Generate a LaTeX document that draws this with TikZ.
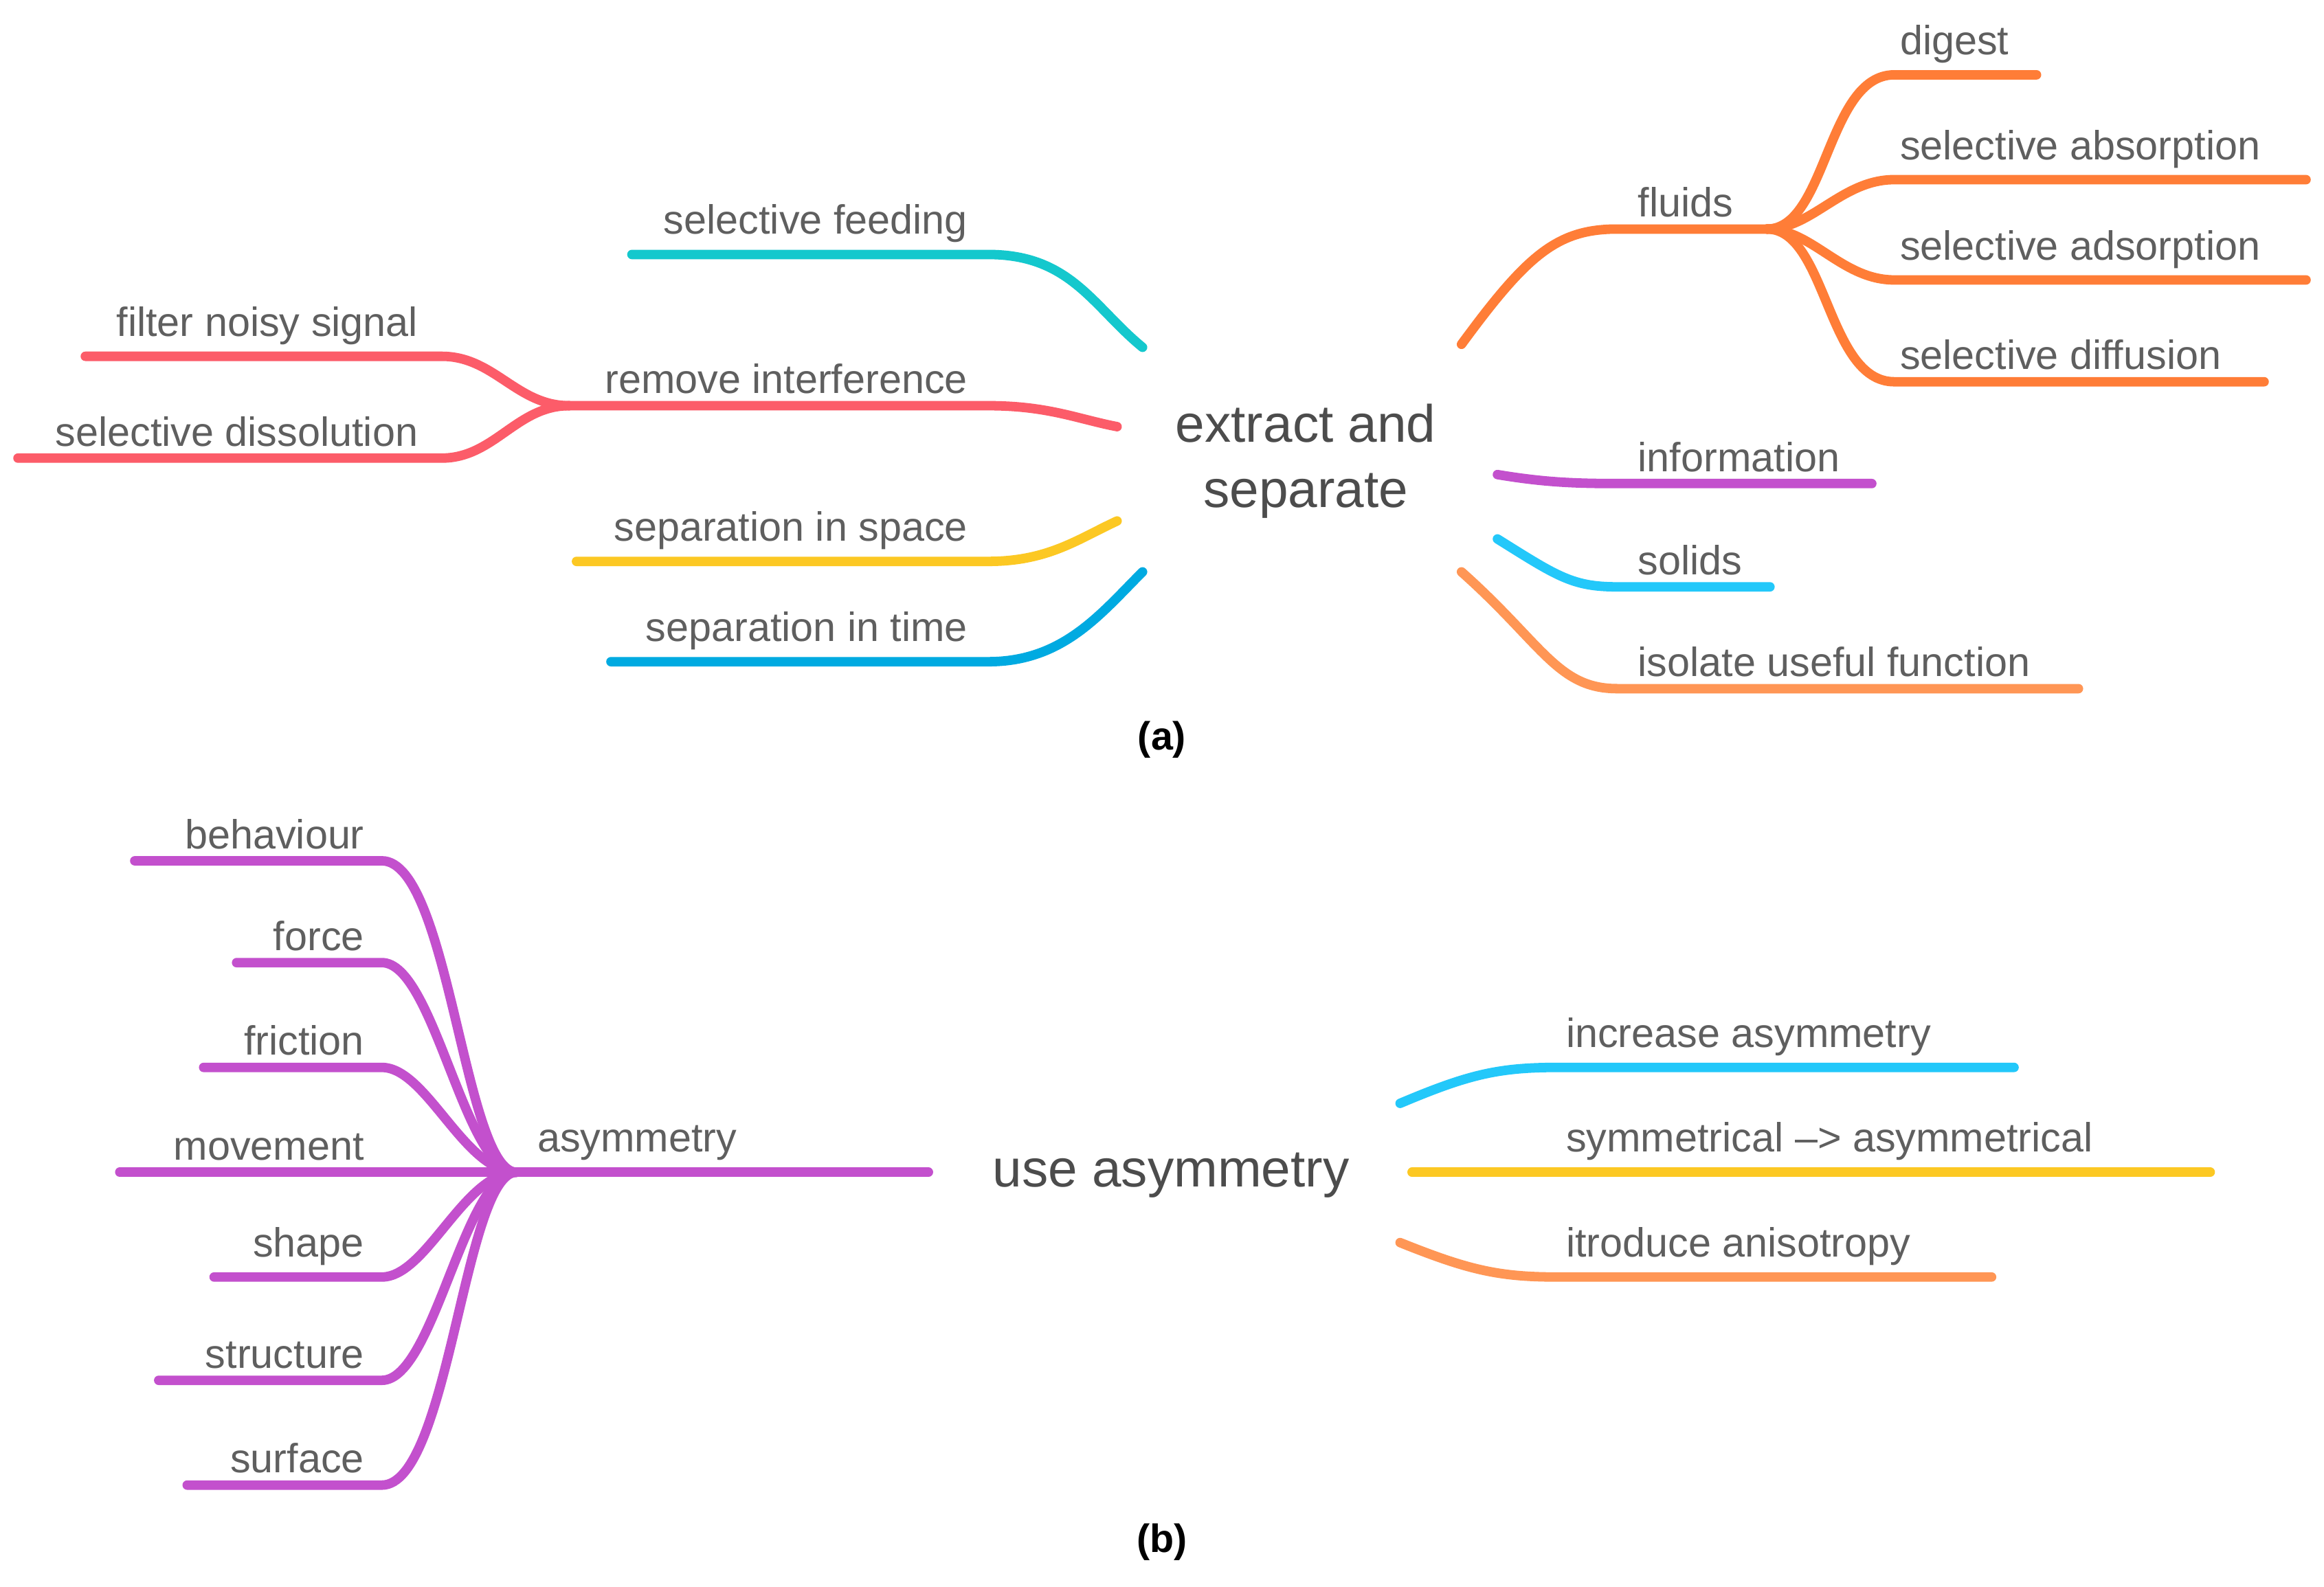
\documentclass[tikz,border=0pt]{standalone}
\usepackage{fontspec}
\setmainfont{Liberation Sans}
\begin{document}
\begin{tikzpicture}[x=0.02cm,y=-0.02cm,
 br/.style={line width=3.6pt,line cap=round},
 lbl/.style={text=txt,font=\fontsize{15.5}{18}\selectfont,inner sep=2pt},
 lr/.style={lbl,anchor=south west},
 ll/.style={lbl,anchor=south east},
 cen/.style={text=txt!80!black,font=\fontsize{20}{25}\selectfont,align=center},
 figcap/.style={font=\fontsize{15}{18}\selectfont\rmfamily\bfseries}]
\definecolor{txt}{RGB}{95,95,95}
\definecolor{teal}{RGB}{20,200,205}
\definecolor{red}{RGB}{252,92,105}
\definecolor{yel}{RGB}{252,200,35}
\definecolor{blu}{RGB}{0,170,225}
\definecolor{org}{RGB}{255,125,55}
\definecolor{pur}{RGB}{195,80,205}
\definecolor{lblu}{RGB}{35,200,250}
\definecolor{lorg}{RGB}{255,150,85}
\useasboundingbox (0,0) rectangle (1552,1060);
\fill[white] (0,0) rectangle (1552,1060);
% (a)
\node[cen] (c1) at (872,308) {extract and\\separate};
\coordinate (a1) at (763,232); \coordinate (a2) at (746,285);
\coordinate (a3) at (746,348); \coordinate (a4) at (763,382);
\coordinate (ri) at (380,271);
\draw[br,teal] (422,170) coordinate (t0) -- (660,170) .. controls (715,170) and (730,205) .. (a1);
\draw[br,red] (ri) -- (660,271) .. controls (700,271) and (720,280) .. (a2);
\draw[br,red] (57,238) -- (295,238) .. controls (330,238) and (345,271) .. (ri);
\draw[br,red] (12,306) -- (295,306) .. controls (330,306) and (345,271) .. (ri);
\draw[br,yel] (385,375) -- (660,375) .. controls (700,375) and (720,360) .. (a3);
\draw[br,blu] (408,442) -- (660,442) .. controls (710,442) and (735,410) .. (a4);
\node[ll] (n1) at (650,166) {selective feeding};
\node[ll] (n2) at (650,267) {remove interference};
\node[ll] (n3) at (283,234) {filter noisy signal};
\node[ll] (n4) at (283,302) {selective dissolution};
\node[ll] (n5) at (650,371) {separation in space};
\node[ll] (n6) at (650,438) {separation in time};
\coordinate (fl) at (1180,153);
\draw[br,org] (976,230) .. controls (1020,170) and (1040,153) .. (1080,153) -- (fl);
\draw[br,org] (fl) .. controls (1220,153) and (1220,50) .. (1265,50) -- (1360,50);
\draw[br,org] (fl) .. controls (1210,153) and (1230,120) .. (1265,120) -- (1540,120);
\draw[br,org] (fl) .. controls (1210,153) and (1230,187) .. (1265,187) -- (1540,187);
\draw[br,org] (fl) .. controls (1220,153) and (1220,255) .. (1265,255) -- (1512,255);
\draw[br,pur] (1000,317) .. controls (1030,322) and (1050,323) .. (1080,323) -- (1250,323);
\draw[br,lblu] (1000,360) .. controls (1040,385) and (1050,392) .. (1080,392) -- (1182,392);
\draw[br,lorg] (976,382) .. controls (1030,430) and (1040,460) .. (1080,460) -- (1388,460);
\node[lr] (m1) at (1090,149) {fluids};
\node[lr] (m2) at (1265,46) {digest};
\node[lr] (m3) at (1265,116) {selective absorption};
\node[lr] (m4) at (1265,183) {selective adsorption};
\node[lr] (m5) at (1265,251) {selective diffusion};
\node[lr] (m6) at (1090,319) {information};
\node[lr] (m7) at (1090,388) {solids};
\node[lr] (m8) at (1090,456) {isolate useful function};
\node[figcap] (capa) at (776,494) {(a)};
% (b)
\node[cen] (c2) at (782,785) {use asymmetry};
\coordinate (as) at (345,783);
\draw[br,pur] (as) -- (620,783);
\draw[br,pur] (90,575) -- (255,575) .. controls (300,575) and (310,783) .. (as);
\draw[br,pur] (158,643) -- (255,643) .. controls (290,643) and (310,783) .. (as);
\draw[br,pur] (136,713) -- (255,713) .. controls (285,713) and (310,783) .. (as);
\draw[br,pur] (80,783) -- (as);
\draw[br,pur] (143,853) -- (255,853) .. controls (285,853) and (310,783) .. (as);
\draw[br,pur] (106,922) -- (255,922) .. controls (290,922) and (310,783) .. (as);
\draw[br,pur] (125,992) -- (255,992) .. controls (300,992) and (310,783) .. (as);
\node[lr] (b0) at (355,779) {asymmetry};
\node[ll] (b1) at (247,571) {behaviour};
\node[ll] (b2) at (247,639) {force};
\node[ll] (b3) at (247,709) {friction};
\node[ll] (b4) at (247,779) {movement};
\node[ll] (b5) at (247,849) {shape};
\node[ll] (b6) at (247,918) {structure};
\node[ll] (b7) at (247,988) {surface};
\draw[br,lblu] (935,737) .. controls (980,718) and (1000,713) .. (1040,713) -- (1345,713);
\draw[br,yel] (943,783) -- (1476,783);
\draw[br,lorg] (935,830) .. controls (980,848) and (1000,853) .. (1040,853) -- (1330,853);
\node[lr] (d1) at (1042,709) {increase asymmetry};
\node[lr] (d2) at (1042,779) {symmetrical --> asymmetrical};
\node[lr] (d3) at (1042,849) {itroduce anisotropy};
\node[figcap] (capb) at (776,1030) {(b)};
\end{tikzpicture}
\end{document}
